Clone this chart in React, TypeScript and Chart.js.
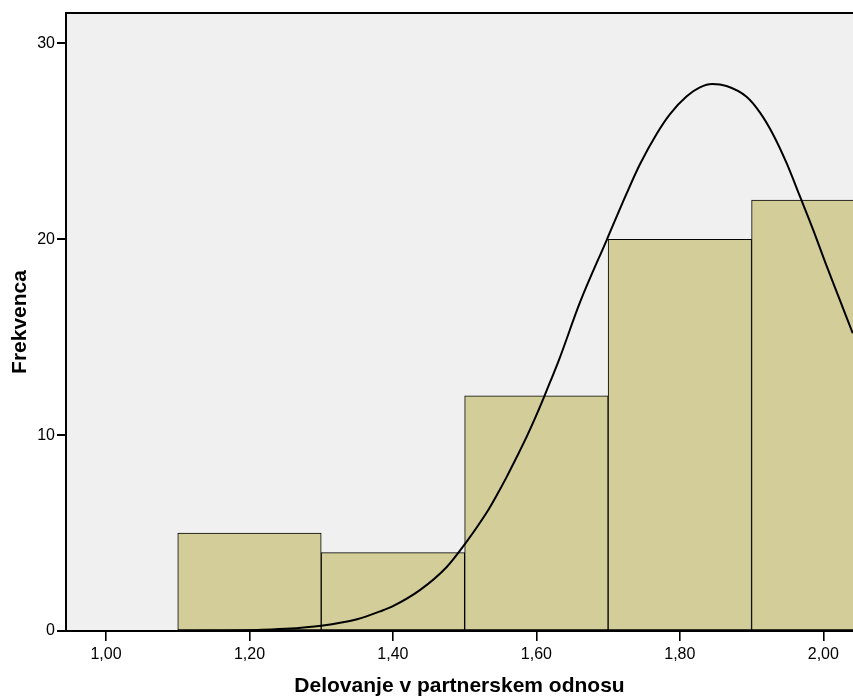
import React, { useEffect, useRef } from "react";
import { Chart, registerables } from "chart.js";

Chart.register(...registerables);

const binCenters = [1.2, 1.4, 1.6, 1.8, 2.0];
const binCounts = [5, 4, 12, 20, 22];

const curveX = [1.1, 1.15, 1.2, 1.25, 1.3, 1.35, 1.382, 1.4, 1.438, 1.475, 1.5005, 1.5307, 1.5447, 1.5586, 1.5726, 1.5865, 1.598, 1.6096, 1.619, 1.6306, 1.661, 1.698, 1.726, 1.744, 1.768, 1.786, 1.8096, 1.828, 1.845, 1.865, 1.893, 1.912, 1.93, 1.949, 1.9676, 1.986, 2.005, 2.023, 2.041];
const curveY = [0.0, 0.01, 0.04, 0.11, 0.27, 0.6, 1.0, 1.27, 2.1, 3.27, 4.45, 6.05, 6.93, 7.87, 8.88, 9.92, 10.85, 11.85, 12.7, 13.75, 16.8, 19.96, 22.35, 23.8, 25.4, 26.38, 27.3, 27.75, 27.92, 27.82, 27.27, 26.45, 25.35, 23.87, 22.17, 20.47, 18.6, 16.9, 15.2];

const xTicks = [1.0, 1.2, 1.4, 1.6, 1.8, 2.0];
const yTicks = [0, 10, 20, 30];

const xTitle = "Delovanje v partnerskem odnosu";
const yTitle = "Frekvenca";

const FONT = "'Liberation Sans', Arial, Helvetica, sans-serif";

const plotBg = {
  id: "plotBg",
  beforeDraw(chart: any) {
    const { ctx, chartArea } = chart;
    ctx.save();
    ctx.fillStyle = "#F0F0F0";
    ctx.fillRect(chartArea.left, chartArea.top, chartArea.right - chartArea.left, chartArea.bottom - chartArea.top);
    ctx.restore();
  },
  afterDraw(chart: any) {
    const { ctx, chartArea } = chart;
    ctx.save();
    ctx.strokeStyle = "#000";
    ctx.lineWidth = 2;
    ctx.beginPath();
    ctx.moveTo(chartArea.left - 1, chartArea.top);
    ctx.lineTo(chartArea.right, chartArea.top);
    ctx.stroke();
    ctx.restore();
  },
};

export default function App() {
  const ref = useRef<HTMLCanvasElement>(null);
  useEffect(() => {
    if (!ref.current) return;
    const chart = new Chart(ref.current, {
      type: "bar",
      data: {
        datasets: [
          {
            type: "line",
            data: curveX.map((x, i) => ({ x, y: curveY[i] })),
            borderColor: "#000",
            borderWidth: 2,
            pointRadius: 0,
            cubicInterpolationMode: "monotone",
            fill: false,
            order: 0,
          } as any,
          {
            type: "bar",
            data: binCenters.map((x, i) => ({ x, y: binCounts[i] })),
            backgroundColor: "#D3CE99",
            borderColor: "#000",
            borderWidth: 1,
            borderSkipped: false,
            barPercentage: 1,
            categoryPercentage: 1,
            order: 1,
          } as any,
        ],
      },
      options: {
        animation: false,
        responsive: true,
        maintainAspectRatio: false,
        layout: { padding: { top: 13, left: 0, right: 0, bottom: 0 } },
        plugins: { legend: { display: false }, tooltip: { enabled: false } },
        scales: {
          x: {
            type: "linear",
            min: 0.9442,
            max: 2.0414,
            offset: false,
            afterBuildTicks: (s: any) => {
              s.ticks = xTicks.map((v) => ({ value: v }));
            },
            afterFit: (s: any) => {
              s.height = 67;
            },
            grid: { display: true, drawOnChartArea: false, drawTicks: true, tickLength: 10, color: "#000", lineWidth: 1.6, offset: false },
            border: { display: true, color: "#000", width: 2 },
            ticks: {
              padding: 4,
              color: "#000",
              font: { family: FONT, size: 16 },
              maxRotation: 0,
              callback: (v: any) => Number(v).toFixed(2).replace(".", ","),
            },
            title: {
              display: true,
              text: xTitle,
              color: "#000",
              font: { family: FONT, size: 21, weight: "bold", lineHeight: 1 },
              padding: { top: 0, bottom: 1 },
            },
          },
          y: {
            type: "linear",
            min: 0,
            max: 31.55,
            afterBuildTicks: (s: any) => {
              s.ticks = yTicks.map((v) => ({ value: v }));
            },
            afterFit: (s: any) => {
              s.width = 66;
            },
            grid: { display: true, drawOnChartArea: false, drawTicks: true, tickLength: 9, color: "#000", lineWidth: 2 },
            border: { display: true, color: "#000", width: 2 },
            ticks: {
              padding: 2,
              color: "#000",
              font: { family: FONT, size: 16 },
            },
            title: {
              display: true,
              text: yTitle,
              color: "#000",
              font: { family: FONT, size: 21, weight: "bold", lineHeight: 1 },
              padding: { top: 10, bottom: 0 },
            },
          },
        },
      } as any,
      plugins: [plotBg],
    });
    return () => chart.destroy();
  }, []);
  return (
    <div style={{ position: "fixed", left: 0, top: 0, width: 853, height: 698, background: "#fff" }}>
      <canvas ref={ref} />
    </div>
  );
}
